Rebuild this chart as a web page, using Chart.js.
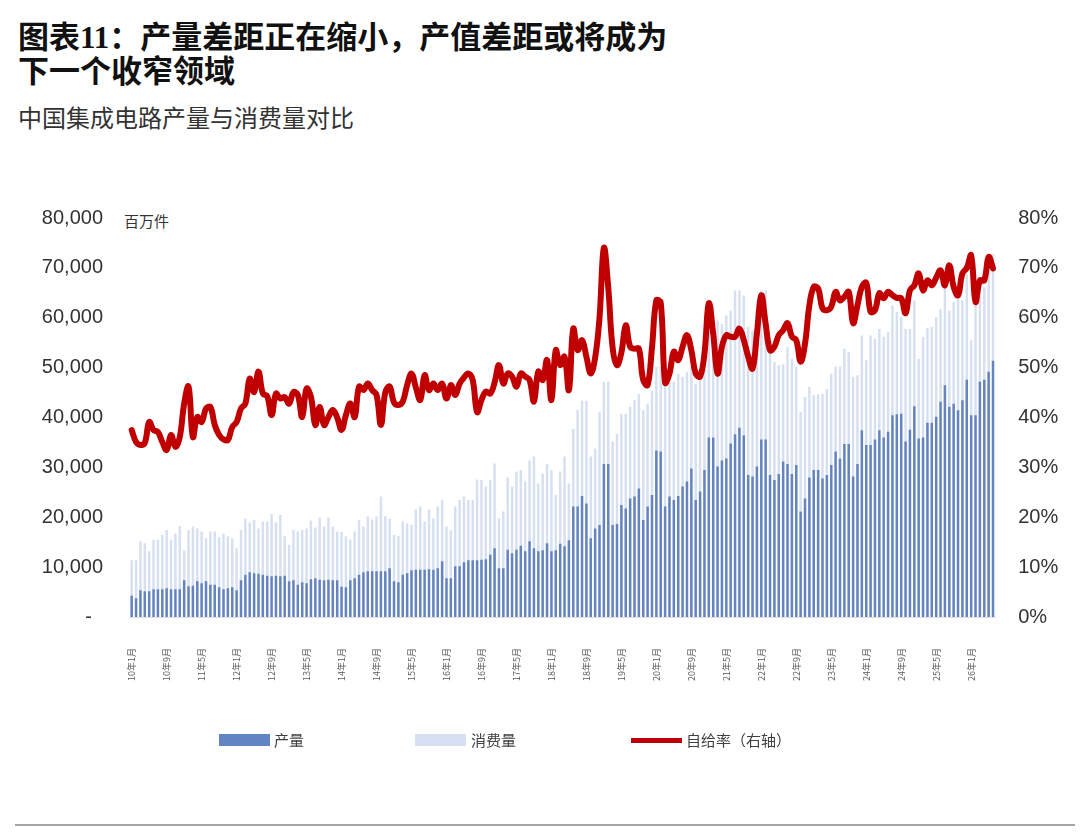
<!DOCTYPE html>
<html>
<head>
<meta charset="utf-8">
<script src="https://cdn.jsdelivr.net/npm/chart.js@4.4.1/dist/chart.umd.min.js"></script>
<style>
html,body{margin:0;padding:0;background:#fff;}
body{width:1080px;height:833px;position:relative;overflow:hidden;font-family:"Noto Sans CJK SC",sans-serif;}
#title{position:absolute;left:18px;top:21px;font-family:"Liberation Serif","Noto Sans CJK SC",serif;font-size:31px;font-weight:bold;line-height:34px;color:#111;white-space:nowrap;}
#subtitle{position:absolute;left:18px;top:103px;font-size:24px;line-height:28px;color:#333;white-space:nowrap;}
#unit{position:absolute;left:124px;top:211px;font-size:15px;line-height:20px;color:#333;}
#chart{position:absolute;left:0;top:0;}
.lg{position:absolute;top:730px;height:20px;font-size:15px;line-height:20px;color:#404040;white-space:nowrap;}
.sw{position:absolute;}
#rule{position:absolute;left:15px;top:824px;width:1060px;height:2px;background:#a6a6a6;}
</style>
</head>
<body>
<div id="title">图表11：产量差距正在缩小，产值差距或将成为<br>下一个收窄领域</div>
<div id="subtitle">中国集成电路产量与消费量对比</div>
<div id="unit">百万件</div>
<canvas id="chart" width="1080" height="833"></canvas>
<div class="sw" style="left:219px;top:734px;width:51px;height:12px;background:#6384C2;"></div>
<div class="lg" style="left:274px;">产量</div>
<div class="sw" style="left:415px;top:734px;width:51px;height:12px;background:#D6E0F0;"></div>
<div class="lg" style="left:471px;">消费量</div>
<div class="sw" style="left:631px;top:738px;width:51px;height:5px;background:#C00000;"></div>
<div class="lg" style="left:686px;">自给率（右轴）</div>
<div id="rule"></div>
<script>
// Categories: monthly, 2010-01 onward
const startYear = 10;
const monthCount = 198;
const categories = [];
for (let i = 0; i < monthCount; i++) {
  const y = startYear + Math.floor(i / 12);
  const m = (i % 12) + 1;
  categories.push(y + '年' + m + '月');
}
const labelEvery = 8;

// 产量 (百万件)
const production = [
4200,3700,5300,5100,5100,5500,5500,5500,5700,5500,5500,5500,7300,6100,6200,7100,6700,7100,6400,6400,
5900,5500,5700,5900,5300,7300,8400,8900,8700,8600,8400,8200,8100,8200,8100,8200,7100,7300,6400,6900,
6700,7500,7700,7400,7300,7400,7300,7300,6000,5900,
7300,7700,8400,8900,9100,9100,9100,9100,9100,9700,7100,6900,8400,8700,9300,9400,9400,9400,9500,9400,
9700,11100,7700,7700,10100,10100,10900,11300,11300,11300,11400,11500,12400,13700,9700,9700,13400,12700,13400,14200,
13100,15100,13700,13100,13300,14700,13100,13300,
14600,14100,15300,22100,22100,24200,22700,15700,17700,18400,30600,30600,18400,18600,22400,21700,23700,24100,25700,19400,
22100,24400,33300,33100,22100,24100,23400,24200,26100,27100,29700,23400,25100,29400,35900,35900,30100,31300,31700,34700,
36600,37900,36400,28400,28100,30100,35500,35500,28400,27400,
28600,31100,30600,28600,30400,21100,23700,27900,29400,29400,27700,28400,30400,33100,31700,34600,34600,28100,30600,37400,
34400,34400,35500,37400,35900,37100,40400,40600,40700,35100,37500,42200,35700,35900,38900,38900,40100,43100,46400,42100,
42700,41400,43400,47500,40400,40400,47100,47500,49100,51300
];

// 消费量 (百万件)
const consumption = [
11300,11300,15100,14700,13100,15400,15400,16400,17400,15400,16700,18200,13300,17400,18100,17700,17100,15700,17100,17100,
15900,16700,16100,15700,13700,17400,19700,18900,19400,17700,19100,19100,20600,18900,20400,16100,14400,17400,17100,17400,
17700,19300,17900,19900,18100,19900,18100,17100,17000,16100,
15400,17100,19400,18100,20100,19500,20100,24100,20200,19700,16400,16100,19100,18700,18400,21500,22100,19100,21500,19700,
22100,23400,18100,17400,22100,23400,24100,23400,23400,27500,27400,26100,27400,30700,19700,21100,27900,26100,29100,29400,
27100,31300,32100,26700,28700,30600,29400,24400,
29100,32100,26700,37700,41500,43300,43300,32100,33700,41100,47100,47100,35100,36700,40700,40700,42100,43400,44600,41400,
42700,45400,50100,50100,47400,48700,47100,48700,48100,49100,50100,46700,48400,55700,62700,62400,59400,58700,60400,61400,
65400,65400,64400,58100,57400,60700,65400,65400,56000,51000,
50400,50600,54100,51700,50100,41100,44100,46100,44400,44600,44700,45700,48700,50100,50200,53700,53100,48100,48400,
56400,51400,56400,55700,57700,56100,57100,62400,61100,60100,57700,57700,63400,51700,56100,57900,58100,60100,61700,67000,
61400,63100,63700,63400,68700,55400,62700,66700,66100,71400,72700
];

// 自给率 (%, 右轴)
const selfSufficiency = [
37.5,35.1,34.5,34.9,39.1,37.5,37.1,35.1,33.5,36.5,34.1,36.1,42.8,46.2,36.1,40.1,39.1,41.8,42.1,38.5,
36.5,35.6,35.5,38.1,39.1,41.8,42.8,47.8,45.1,49.2,44.8,44.3,40.5,44.8,43.8,44.1,42.8,45.1,44.5,40.1,
45.8,44.1,38.5,42.1,38.5,40.1,41.5,40,37.5,40.5,
42.8,40.1,46.2,45.5,46.8,45.5,44.5,38.5,45,46.2,43,42.5,43.2,46.5,48.8,46,43.5,48.5,45.5,46.8,
45.5,46.8,43.8,46.5,44.5,46.8,48,48.8,47.5,41.1,43.5,45.2,44.8,47,50.5,46.8,48.8,48.2,46.2,48.8,
48.2,47.5,43.2,49.2,47.5,51.5,43.5,53.5,
50.5,52.2,45.5,57.8,53.5,55.5,52.2,48.8,52,60,74,66,54,50.5,53,58.5,54.2,53.8,53.8,47.5,
46.5,54,63.5,63,47,48.8,53.2,51.5,54.2,56.5,53.5,48.8,48.2,52.8,62.9,56.8,48.8,54.2,56.5,56.2,
56.2,57.8,55.5,52.2,49.8,56.8,64.5,58.8,53.5,54.2,
56.5,57.5,58.9,56.2,55.5,51.2,54.8,62.5,66.2,65.9,61.9,61.5,62.2,65.2,63.5,64.2,65.2,58.9,62.5,
66.2,67,61.2,61.5,64.9,63.9,65.2,64.5,64,63.9,60.9,65.5,66.5,68.9,65.5,67.5,66.5,68,69.5,66.5,
70.5,66.2,64.5,68.9,70,72.5,63.2,67.5,67.5,72.2,69.9
];

// Axis ticks
const leftMax = 80000, leftStep = 10000;
const rightMax = 80, rightStep = 10;

const axisFont = {family: '"Liberation Sans", Arial, sans-serif', size: 20};

new Chart(document.getElementById('chart'), {
  data: {
    labels: categories,
    datasets: [
      {
        type: 'line', label: '自给率（右轴）', data: selfSufficiency, yAxisID: 'y1',
        borderColor: '#C00000', borderWidth: 6, tension: 0.4, pointRadius: 0,
        fill: false, borderCapStyle: 'round', borderJoinStyle: 'round', order: 0
      },
      {
        type: 'bar', label: '产量', data: production, yAxisID: 'y',
        backgroundColor: '#6584BF', barThickness: 1.8, grouped: false, order: 1
      },
      {
        type: 'bar', label: '消费量', data: consumption, yAxisID: 'y',
        backgroundColor: '#D6E0F0', barThickness: 1.8, grouped: false, order: 2
      }
    ]
  },
  options: {
    responsive: false,
    animation: false,
    layout: {padding: {left: 0, right: 0, top: 218, bottom: 136}},
    plugins: {legend: {display: false}, tooltip: {enabled: false}},
    scales: {
      x: {
        type: 'category',
        offset: true,
        grid: {display: false, drawTicks: false},
        border: {display: true, color: '#e2e2dc', width: 1},
        ticks: {
          autoSkip: false, maxRotation: 90, minRotation: 90, padding: 31,
          color: '#595959', font: {family: '"Noto Sans CJK SC", sans-serif', size: 9},
          callback: function (val, idx) { return idx % labelEvery === 0 ? this.getLabelForValue(val) : ''; }
        },
        afterFit: function (s) { s.height = 80; }
      },
      y: {
        position: 'left', min: 0, max: leftMax,
        grid: {display: false, drawTicks: false},
        border: {display: false},
        ticks: {
          stepSize: leftStep, padding: 26.5, color: '#333', font: axisFont,
          callback: function (v) { return v === 0 ? '-  ' : v.toLocaleString('en-US'); }
        },
        afterFit: function (s) { s.width = 129.5; }
      },
      y1: {
        position: 'right', min: 0, max: rightMax,
        grid: {display: false, drawTicks: false},
        border: {display: false},
        ticks: {
          stepSize: rightStep, padding: 23, color: '#333', font: axisFont,
          callback: function (v) { return v + '%'; }
        },
        afterFit: function (s) { s.width = 84.8; }
      }
    }
  }
});
</script>
</body>
</html>
